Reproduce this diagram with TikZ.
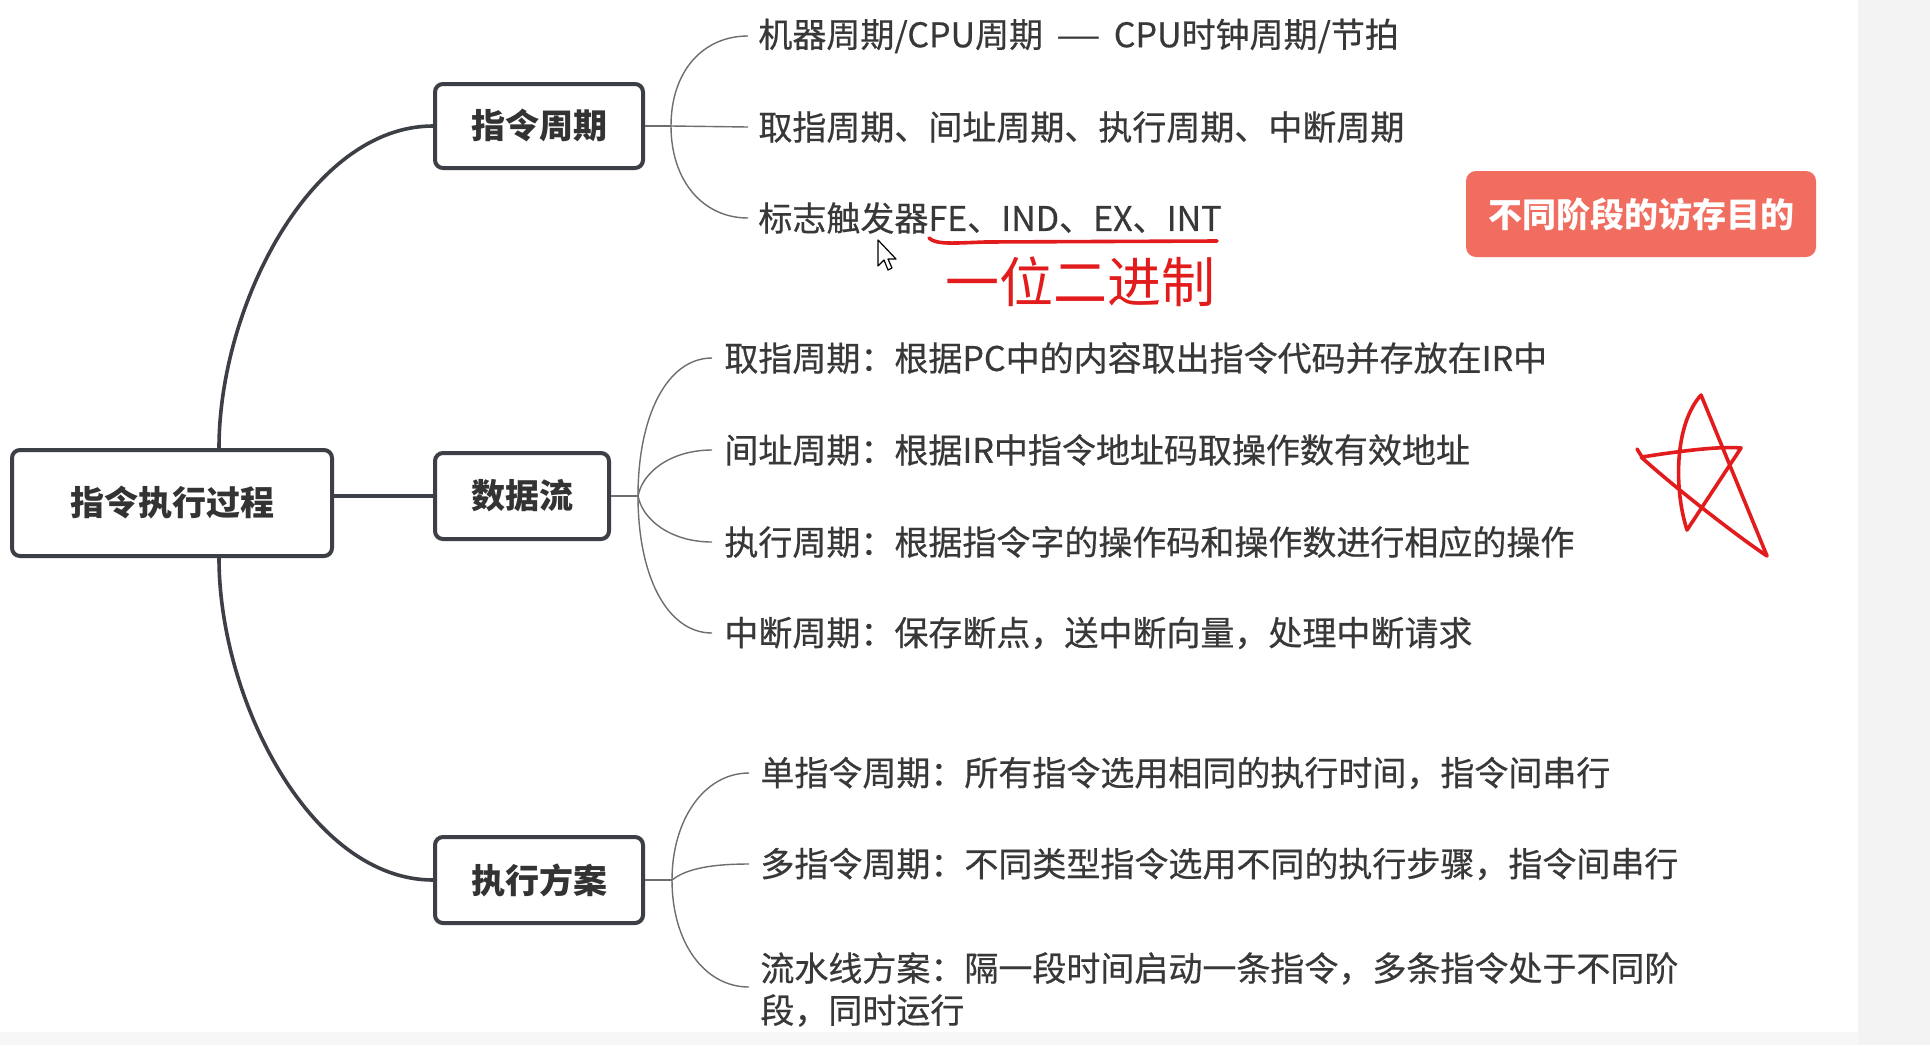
\documentclass[tikz,border=0pt]{standalone}
\usepackage{fontspec}
\usepackage{graphicx}
\setmainfont{Noto Sans CJK SC}
\newfontfamily\itemfont{Noto Sans CJK SC}[FakeBold=0.5]
\definecolor{trunkcol}{HTML}{3C3F45}
\definecolor{twigcol}{HTML}{6E6E6E}
\definecolor{txtcol}{HTML}{333333}
\definecolor{itemcol}{HTML}{383838}
\definecolor{memcol}{RGB}{241,109,95}
\definecolor{pencol}{RGB}{226,28,28}
\definecolor{stripcol}{HTML}{F3F3F3}
\begin{document}
\begin{tikzpicture}[x=0.5pt,y=-0.5pt,
  mainbox/.style={draw=trunkcol, line width=2pt, rounded corners=4pt, fill=white,
    font=\fontsize{17pt}{21pt}\selectfont\bfseries, text=txtcol, inner sep=0pt},
  trunk/.style={draw=trunkcol, line width=1.8pt},
  twig/.style={draw=twigcol, line width=0.7pt},
  item/.style={anchor=west, inner sep=0pt, font=\itemfont\fontsize{17pt}{21pt}\selectfont, text=itemcol},
  membox/.style={fill=memcol, rounded corners=5pt, text=white, inner sep=0pt,
    font=\fontsize{17pt}{21pt}\selectfont\bfseries},
  redpen/.style={draw=pencol, line width=1.8pt, line cap=round, line join=round},
  cursorshape/.style={fill=white, draw=black, line width=0.6pt, line join=round}
]
% background
\fill[white] (0,0) rectangle (1930,1045);
\fill[stripcol] (1858,0) rectangle (1930,1045);
\fill[stripcol!70!white] (0,1032) rectangle (1858,1045);
\useasboundingbox (0,0) rectangle (1930,1045);

% main boxes
\node[mainbox, minimum width=160pt, minimum height=53pt] (root) at (172,503) {指令执行过程};
\node[mainbox, minimum width=104pt, minimum height=42pt] (zq) at (539,126) {指令周期};
\node[mainbox, minimum width=87pt, minimum height=43pt] (sj) at (522,496) {数据流};
\node[mainbox, minimum width=104pt, minimum height=43pt] (fa) at (539,880) {执行方案};

% trunk connectors
\draw[trunk] ([xshift=23.5pt]root.north) .. controls +(0,-142) and +(-122,0) .. (zq.west);
\draw[trunk] (root.east |- sj.west) -- (sj.west);
\draw[trunk] ([xshift=23.5pt]root.south) .. controls +(0,142) and +(-122,0) .. (fa.west);

% group 1
\node[item] (i11) at (758,36) {机器周期/CPU周期\hspace{7pt}\scalebox{0.75}[1]{——}\hspace{7pt}CPU时钟周期/节拍};
\node[item] (i12) at (758,127) {取指周期、间址周期、执行周期、中断周期};
\node[item] (i13) at (758,218) {标志触发器FE、IND、EX、INT};
\coordinate (b1) at (671,126);
\draw[twig] (zq.east) -- (b1);
\draw[twig] (b1) .. controls +(0,-55) and +(-45,0) .. ([xshift=-5pt]i11.west);
\draw[twig] (b1) -- ([xshift=-5pt]i12.west);
\draw[twig] (b1) .. controls +(0,55) and +(-45,0) .. ([xshift=-5pt]i13.west);

% group 2
\node[item] (i21) at (724,358) {取指周期：根据PC中的内容取出指令代码并存放在IR中};
\node[item] (i22) at (724,450) {间址周期：根据IR中指令地址码取操作数有效地址};
\node[item] (i23) at (724,542) {执行周期：根据指令字的操作码和操作数进行相应的操作};
\node[item] (i24) at (724,633) {中断周期：保存断点，送中断向量，处理中断请求};
\coordinate (b2) at (638,496);
\draw[twig] (sj.east) -- (b2);
\draw[twig] (b2) .. controls +(0,-80) and +(-45,0) .. ([xshift=-6pt]i21.west);
\draw[twig] (b2) .. controls +(5,-25) and +(-40,0) .. ([xshift=-6pt]i22.west);
\draw[twig] (b2) .. controls +(5,25) and +(-40,0) .. ([xshift=-6pt]i23.west);
\draw[twig] (b2) .. controls +(0,80) and +(-45,0) .. ([xshift=-6pt]i24.west);

% group 3
\node[item] (i31) at (760,773) {单指令周期：所有指令选用相同的执行时间，指令间串行};
\node[item] (i32) at (760,864) {多指令周期：不同类型指令选用不同的执行步骤，指令间串行};
\node[item, anchor=base west, align=left] (i33) at (760,1023) {流水线方案：隔一段时间启动一条指令，多条指令处于不同阶\\段，同时运行};
\coordinate (b3) at (672,880);
\draw[twig] (fa.east) -- (b3);
\draw[twig] (b3) .. controls +(0,-60) and +(-45,0) .. ([xshift=-5.5pt]i31.west);
\draw[twig] (b3) .. controls +(15,-12) and +(-35,0) .. ([xshift=-5.5pt]i32.west);
\draw[twig] (b3) .. controls +(0,62) and +(-45,0) .. ([xshift=-5.5pt,yshift=18pt]i33.base west);

% red tag
\node[membox, minimum width=175pt, minimum height=43pt] (mem) at (1641,214) {不同阶段的访存目的};

% handwritten annotations
\draw[redpen] (929,238) .. controls (936,245) and (955,243) .. (985,242) -- (1217,241);
\node[text=pencol, inner sep=0pt, font=\fontsize{27pt}{30pt}\selectfont] (hw) at (1080,282) {一位二进制};
\draw[redpen] (1637,449) -- (1642,457) .. controls (1680,451) and (1720,446) .. (1741,448)
  -- (1687,530) .. controls (1674,490) and (1674,425) .. (1701,395)
  -- (1767,556) .. controls (1740,538) and (1680,492) .. (1641,457);

% mouse cursor
\draw[cursorshape] (878,240) -- (878,266) -- (884,260) -- (888,270) -- (892,268) -- (888,259) -- (896,259) -- cycle;
\end{tikzpicture}
\end{document}
